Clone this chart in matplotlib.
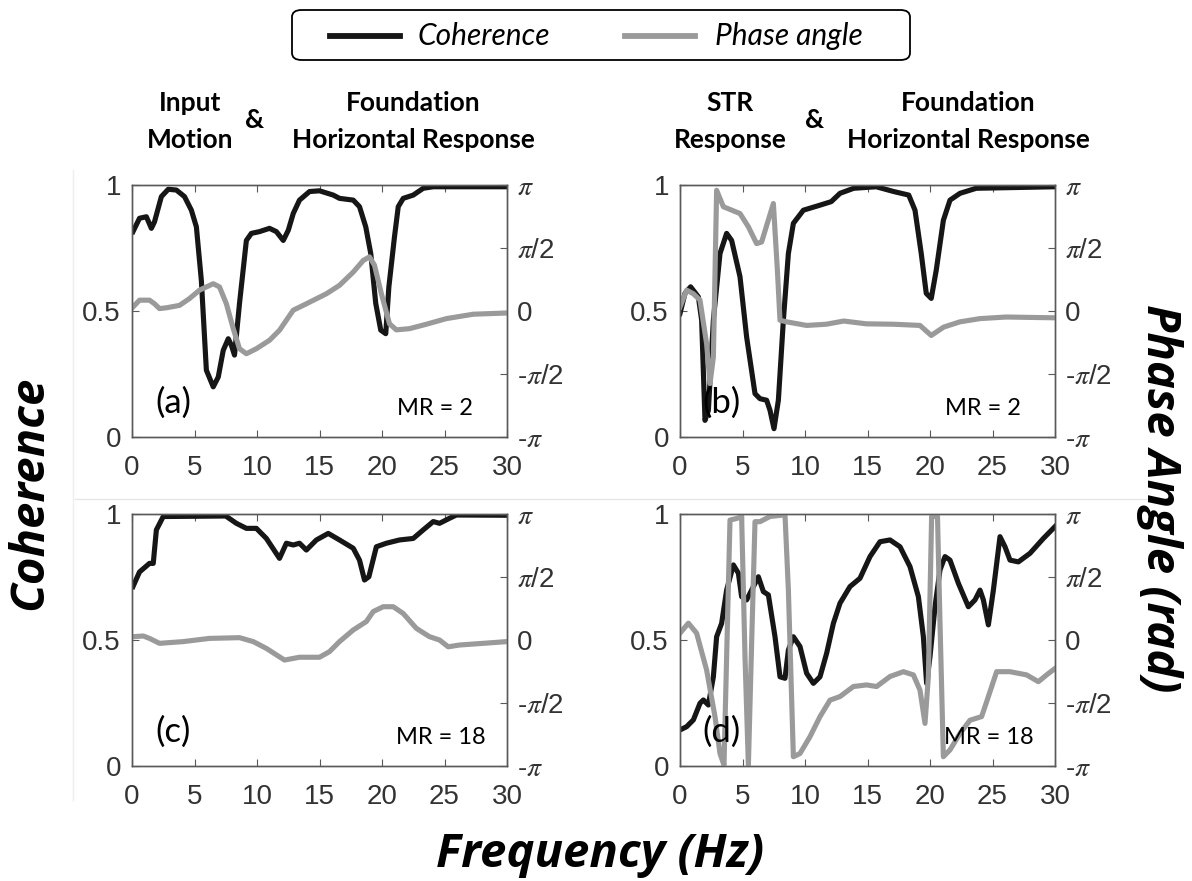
import numpy as np
import matplotlib.pyplot as plt
from matplotlib.lines import Line2D
from matplotlib.patches import FancyBboxPatch

plt.rcParams['mathtext.fontset'] = 'stix'

# ---- data (frequency in Hz, coherence 0-1, phase in rad) ----
freq_a_coh = [0.08, 0.6, 1.15, 1.55, 1.8, 2.35, 2.9, 3.55, 4.2, 4.75, 5.15, 5.55, 5.95, 6.5, 6.9, 7.3, 7.7,
              7.95, 8.2, 8.6, 9.15, 9.55, 10.2, 11.0, 11.55, 12.1, 12.5, 12.9, 13.4, 14.2, 15.0, 16.1, 16.6,
              17.7, 18.2, 18.7, 19.1, 19.5, 19.9, 20.3, 20.55, 21.0, 21.3, 21.7, 22.5, 23.3, 24.1, 30.0]
coh_a = [0.815, 0.868, 0.874, 0.828, 0.854, 0.954, 0.983, 0.98, 0.954, 0.90, 0.834, 0.62, 0.265, 0.199, 0.238,
         0.344, 0.39, 0.364, 0.325, 0.53, 0.78, 0.808, 0.815, 0.828, 0.815, 0.78, 0.82, 0.887, 0.94, 0.974, 0.977,
         0.96, 0.947, 0.94, 0.914, 0.834, 0.728, 0.53, 0.424, 0.41, 0.596, 0.795, 0.914, 0.947, 0.96, 0.987,
         0.993, 0.993]
freq_a_ph = [0.08, 0.6, 1.4, 1.8, 2.2, 2.75, 3.8, 4.6, 5.4, 6.5, 7.0, 7.55, 8.1, 8.6, 9.15, 9.95, 11.0, 11.8,
             12.9, 13.95, 15.55, 16.6, 17.7, 18.5, 19.0, 19.4, 19.95, 20.6, 21.15, 22.2, 23.55, 25.15, 27.3, 30.0]
ph_a = [0.1, 0.27, 0.27, 0.18, 0.06, 0.08, 0.14, 0.31, 0.52, 0.68, 0.60, 0.18, -0.44, -0.94, -1.065, -0.94,
        -0.73, -0.48, 0.02, 0.18, 0.43, 0.64, 0.97, 1.26, 1.35, 1.14, 0.43, -0.32, -0.47, -0.44, -0.33, -0.19,
        -0.08, -0.05]

freq_b_coh = [0.0, 0.4, 0.85, 1.47, 1.73, 2.0, 2.27, 2.67, 3.2, 3.73, 4.13, 4.8, 5.33, 6.0, 6.4, 6.93, 7.2,
              7.52, 7.87, 8.27, 8.67, 9.07, 9.87, 11.2, 12.1, 12.8, 13.9, 15.7, 17.1, 18.3, 18.8, 19.3, 19.7,
              20.1, 20.5, 21.07, 21.6, 22.4, 23.7, 30.0]
coh_b = [0.49, 0.57, 0.596, 0.556, 0.464, 0.066, 0.106, 0.464, 0.728, 0.808, 0.78, 0.636, 0.397, 0.172, 0.152,
         0.146, 0.106, 0.033, 0.146, 0.464, 0.728, 0.848, 0.90, 0.92, 0.934, 0.967, 0.987, 0.993, 0.974, 0.96,
         0.90, 0.728, 0.57, 0.55, 0.662, 0.86, 0.94, 0.967, 0.987, 0.993]
freq_b_ph = [0.0, 0.53, 1.07, 1.6, 2.13, 2.4, 2.67, 2.93, 3.47, 4.8, 5.47, 6.13, 6.53, 7.47, 7.79, 8.0, 8.53,
             10.13, 11.7, 13.1, 14.9, 17.1, 19.2, 20.1, 21.1, 22.4, 24.0, 26.1, 30.0]
ph_b = [0.10, 0.52, 0.43, 0.27, -0.82, -1.81, -1.15, 3.01, 2.60, 2.43, 2.10, 1.68, 1.72, 2.68, 1.02, -0.23,
        -0.27, -0.36, -0.33, -0.25, -0.32, -0.33, -0.36, -0.61, -0.40, -0.27, -0.19, -0.15, -0.17]

freq_c_coh = [0.08, 0.6, 1.4, 1.7, 1.95, 2.5, 7.5, 8.35, 9.15, 9.95, 10.75, 11.8, 12.35, 12.9, 13.4, 13.95,
              14.75, 15.7, 16.6, 17.7, 18.2, 18.6, 18.95, 19.55, 20.35, 21.4, 22.5, 23.3, 24.1, 24.6, 25.4,
              25.95, 30.0]
coh_c = [0.712, 0.77, 0.804, 0.804, 0.937, 0.99, 0.992, 0.963, 0.943, 0.943, 0.903, 0.824, 0.884, 0.877, 0.884,
         0.857, 0.897, 0.923, 0.897, 0.864, 0.817, 0.738, 0.751, 0.870, 0.884, 0.897, 0.903, 0.937, 0.970,
         0.963, 0.983, 0.996, 0.995]
freq_c_ph = [0.08, 0.9, 1.4, 2.2, 4.1, 6.2, 8.6, 9.7, 10.75, 11.55, 12.2, 13.4, 15.0, 15.8, 16.6, 17.7, 18.75,
             19.3, 20.1, 20.9, 21.7, 22.75, 23.8, 24.6, 25.3, 26.2, 28.1, 30.0]
ph_c = [0.083, 0.10, 0.04, -0.083, -0.04, 0.04, 0.058, -0.04, -0.21, -0.37, -0.50, -0.43, -0.43, -0.29, -0.04,
        0.25, 0.46, 0.71, 0.83, 0.83, 0.66, 0.29, 0.083, 0.0, -0.17, -0.125, -0.083, -0.04]

freq_d_coh = [0.0, 0.53, 1.07, 1.6, 1.87, 2.27, 2.67, 2.93, 3.33, 3.73, 4.27, 4.67, 4.93, 5.33, 5.73, 6.27,
              6.67, 7.07, 7.6, 8.0, 8.4, 8.67, 9.07, 9.6, 10.13, 10.67, 11.2, 11.73, 12.27, 12.8, 13.6, 14.4,
              15.2, 16.0, 16.8, 17.6, 18.4, 19.07, 19.47, 19.73, 20.0, 20.4, 20.8, 21.2, 21.6, 22.27, 23.07,
              23.6, 24.0, 24.27, 24.67, 25.07, 25.6, 26.0, 26.4, 27.07, 28.0, 29.07, 30.0]
coh_d = [0.143, 0.156, 0.183, 0.249, 0.262, 0.242, 0.354, 0.513, 0.566, 0.698, 0.798, 0.765, 0.672, 0.659,
         0.698, 0.751, 0.692, 0.679, 0.513, 0.354, 0.348, 0.46, 0.513, 0.474, 0.368, 0.328, 0.354, 0.447, 0.566,
         0.646, 0.712, 0.745, 0.831, 0.89, 0.897, 0.870, 0.791, 0.672, 0.513, 0.328, 0.434, 0.632, 0.778, 0.831,
         0.817, 0.725, 0.632, 0.659, 0.698, 0.659, 0.56, 0.698, 0.910, 0.870, 0.817, 0.810, 0.844, 0.903, 0.95]
freq_d_ph = [0.0, 0.67, 1.33, 2.13, 2.8, 3.2, 3.52, 3.73, 4.0, 4.53, 4.93, 5.2, 5.47, 5.73, 6.0, 6.4, 7.2, 8.4,
             8.67, 9.07, 9.6, 10.4, 11.2, 12.0, 12.8, 13.87, 14.93, 15.73, 16.8, 17.87, 18.67, 19.2, 19.6,
             19.87, 20.13, 20.6, 20.8, 21.07, 21.6, 22.4, 23.2, 24.13, 24.67, 25.33, 26.4, 27.73, 28.67, 29.33,
             30.0]
ph_d = [0.17, 0.42, 0.17, -0.75, -1.91, -2.83, -3.12, -0.42, 2.99, 3.03, 3.08, -0.42, -3.12, -0.08, 2.95, 2.95,
        3.08, 3.12, 1.25, -2.91, -2.83, -2.41, -1.91, -1.50, -1.41, -1.16, -1.12, -1.16, -0.91, -0.79, -0.87,
        -1.25, -2.08, -0.91, 3.08, 3.08, 0.42, -2.91, -2.74, -2.33, -2.0, -1.91, -1.41, -0.79, -0.79, -0.87,
        -1.04, -0.87, -0.71]

panel_tags = ['(a)', '(b)', '(c)', '(d)']
mr_labels = ['MR = 2', 'MR = 2', 'MR = 18', 'MR = 18']
x_ticks = [0, 5, 10, 15, 20, 25, 30]
coh_ticks = [0, 0.5, 1]
coh_tick_labels = ['0', '0.5', '1']
phase_ticks = [-np.pi, -np.pi / 2, 0, np.pi / 2, np.pi]
phase_tick_labels = [r'-$\pi$', r'-$\pi$/2', '0', r'$\pi$/2', r'$\pi$']
legend_labels = ['Coherence', 'Phase angle']

panels = [
    (freq_a_coh, coh_a, freq_a_ph, ph_a),
    (freq_b_coh, coh_b, freq_b_ph, ph_b),
    (freq_c_coh, coh_c, freq_c_ph, ph_c),
    (freq_d_coh, coh_d, freq_d_ph, ph_d),
]

W, H = 1192, 881
fig = plt.figure(figsize=(W / 100, H / 100), dpi=100)

def fx(px):
    return px / W

def fy(py):
    return 1 - py / H

# axes boxes in pixels: left, top, right, bottom
boxes = [(132, 185, 507, 437), (680, 185, 1055, 437),
         (132, 514, 507, 766), (680, 514, 1055, 766)]

black = '#161616'
gray = '#9a9a9a'
tick_col = '#333333'
spine_col = '#5a5a5a'
txt_font = 'Lato'
tick_font = 'Liberation Sans'

for i, (l, t, r, b) in enumerate(boxes):
    ax = fig.add_axes([fx(l), fy(b), (r - l) / W, (b - t) / H])
    fc, c, fp, p = panels[i]
    ax.plot(fc, c, color=black, lw=3.7)
    ax.set_xlim(0, 30)
    ax.set_ylim(0, 1)
    ax.set_xticks(x_ticks)
    ax.set_yticks(coh_ticks)
    ax.set_yticklabels(coh_tick_labels)
    ax.tick_params(direction='in', length=5, width=0.8, color=spine_col, labelsize=20,
                   labelcolor=tick_col, top=True)
    ax.tick_params(axis='x', pad=13)
    ax.tick_params(axis='y', pad=8)
    for lab in ax.get_xticklabels() + ax.get_yticklabels():
        lab.set_family(tick_font)
    for s in ax.spines.values():
        s.set_color(spine_col)
        s.set_linewidth(1.0)

    ax2 = ax.twinx()
    ax2.plot(fp, p, color=gray, lw=3.7)
    ax2.set_ylim(-np.pi, np.pi)
    ax2.set_yticks(phase_ticks)
    ax2.set_yticklabels(phase_tick_labels)
    ax2.tick_params(direction='in', length=5, width=0.8, color=spine_col, labelsize=20,
                    labelcolor=tick_col, pad=7)
    for lab in ax2.get_yticklabels():
        lab.set_family(tick_font)
    for s in ax2.spines.values():
        s.set_color(spine_col)
        s.set_linewidth(1.0)

    ax2.text(3.3, -np.pi + 0.135 * 2 * np.pi, panel_tags[i], fontsize=25, family=txt_font,
             ha='center', va='center', color='black')
    ax2.text(24.7 if i >= 2 else 24.2, -np.pi + 0.115 * 2 * np.pi, mr_labels[i], fontsize=17,
             family=txt_font, ha='center', va='center', color='black')

# faint separator lines between the stacked figure parts
fig.add_artist(Line2D([fx(75), fx(1150)], [fy(499), fy(499)], color='#e6e6e6', lw=1))
fig.add_artist(Line2D([fx(73), fx(73)], [fy(170), fy(800)], color='#eeeeee', lw=1))

# legend box drawn at the top
fig.add_artist(FancyBboxPatch((fx(292), fy(60)), (910 - 292) / W, 50 / H,
                              boxstyle='round,pad=0,rounding_size=0.008',
                              transform=fig.transFigure, facecolor='white',
                              edgecolor='black', lw=1.3))
leg_style = [(black, 330, 400, 418), (gray, 625, 695, 715)]
for (col, x0, x1, xt), lab in zip(leg_style, legend_labels):
    fig.add_artist(Line2D([fx(x0), fx(x1)], [fy(36), fy(36)], color=col, lw=4.2))
    fig.text(fx(xt), fy(36), lab, family=txt_font, style='italic', fontsize=21.5,
             ha='left', va='center')

# headings above the columns
head = dict(family=txt_font, weight='bold', fontsize=19, ha='center', va='center')
fig.text(fx(190), fy(103), 'Input', **head)
fig.text(fx(190), fy(140), 'Motion', **head)
fig.text(fx(255), fy(120), '&', **head)
fig.text(fx(413), fy(103), 'Foundation', **head)
fig.text(fx(413), fy(140), 'Horizontal Response', **head)
fig.text(fx(730), fy(103), 'STR', **head)
fig.text(fx(730), fy(140), 'Response', **head)
fig.text(fx(815), fy(120), '&', **head)
fig.text(fx(968), fy(103), 'Foundation', **head)
fig.text(fx(968), fy(140), 'Horizontal Response', **head)

# axis titles
big = dict(family='Open Sans', weight='bold', style='italic', fontsize=34, ha='center', va='center')
fig.text(fx(30), fy(493), 'Coherence', rotation=90, **big)
fig.text(fx(1160), fy(498), 'Phase Angle (rad)', rotation=-90, **big)
fig.text(fx(600), fy(855), 'Frequency (Hz)', **big)

fig.savefig('out.png', dpi=100)
